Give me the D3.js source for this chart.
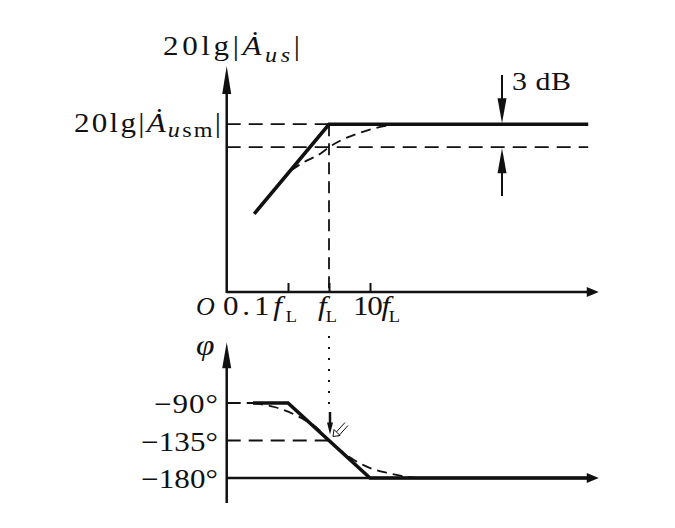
<!DOCTYPE html>
<html><head><meta charset="utf-8">
<script src="https://cdn.jsdelivr.net/npm/d3@7"></script>
<style>
html,body{margin:0;padding:0;background:#fff;}
svg{display:block;}
text{font-family:"Liberation Serif","Times New Roman",serif;fill:#111;}
</style></head>
<body>
<svg id="chart" width="675" height="528"></svg>
<script>
// ---------- data (frequency in units of fL, magnitude in dB relative to midband, phase in degrees) ----------
const xTickValues = [0.1, 1, 10];
const xTickPrefix = ["0.1", "", "10"];
const xAxisRange = [0.0032, 3.8e6];

const magAsymFreq = [0.015, 1, 2.1e6];
const magAsymDb   = [-11.7, 0, 0];
const magCurveFreq = [0.118, 0.246, 0.64, 1, 1.96, 5.1, 22, 57, 120];
const magCurveDb   = [-6.0, -4.95, -3.78, -3, -2.1, -1.2, -0.26, 0, 0];
const magRefLevels = [0, -3];
const magAxisRange = [-21.9, 7.6];
const threeDbMarkFreq = 16600;

const phaseAsymFreq = [0.014, 0.1, 10, 2.1e6];
const phaseAsymDeg  = [-90, -90, -180, -180];
const phaseCurveFreq = [0.014, 0.046, 0.21, 0.54, 1, 3.44, 8.9, 27, 118, 200];
const phaseCurveDeg  = [-90, -94.8, -108, -121, -135, -156, -167, -174, -179.5, -180];
const phaseTicks = [-90, -135, -180];
const phaseTickLabels = ["\u221290\u00b0", "\u2212135\u00b0", "\u2212180\u00b0"];
const phaseAxisRange = [-210, -17];

// ---------- scales ----------
const svg = d3.select("#chart");
const x = d3.scaleLog().domain([0.1, 10]).range([288, 370]);
const yMag = d3.scaleLinear().domain(magAxisRange).range([292, 66]);
const yPh = d3.scaleLinear().domain([-180, -90]).range([478, 403]);

const ink = "#111";
const x0 = x(xAxisRange[0]), x1 = x(xAxisRange[1]);
const SX = 1.15; // horizontal stretch of the lettering

function arrowHead(tx, ty, dir, len, w) {
  let p;
  if (dir === "up") p = [[tx, ty], [tx - w / 2, ty + len], [tx + w / 2, ty + len]];
  else if (dir === "down") p = [[tx, ty], [tx - w / 2, ty - len], [tx + w / 2, ty - len]];
  else p = [[tx, ty], [tx - len, ty - w / 2], [tx - len, ty + w / 2]];
  svg.append("path").attr("d", "M" + p.map(d => d.join(",")).join("L") + "Z").attr("fill", ink);
}
function label(tx, ty, size, w, anchor, sx) {
  const s = sx || SX;
  const t = svg.append("text")
    .attr("transform", `translate(${tx},${ty}) scale(${s},1)`)
    .attr("font-size", size).attr("text-anchor", anchor || "start");
  if (w) t.attr("textLength", w / s).attr("lengthAdjust", "spacing");
  return t;
}
const dashed = "14,8";

// ================= magnitude plot =================
const gMag = svg.append("g");
gMag.append("line").attr("x1", x0).attr("x2", x(1))
  .attr("y1", yMag(magRefLevels[0])).attr("y2", yMag(magRefLevels[0]))
  .attr("stroke", ink).attr("stroke-width", 1.8).attr("stroke-dasharray", dashed);
gMag.append("line").attr("x1", x0).attr("x2", x(magAsymFreq[2]))
  .attr("y1", yMag(magRefLevels[1])).attr("y2", yMag(magRefLevels[1]))
  .attr("stroke", ink).attr("stroke-width", 1.8).attr("stroke-dasharray", dashed);
gMag.append("line").attr("x1", x(1)).attr("x2", x(1))
  .attr("y1", yMag(0)).attr("y2", yMag(magAxisRange[0]))
  .attr("stroke", ink).attr("stroke-width", 1.8).attr("stroke-dasharray", "12,7");

const axMag = d3.axisBottom(x).tickValues(xTickValues).tickSizeInner(-9).tickSizeOuter(0).tickFormat("");
const gAx = gMag.append("g").attr("transform", `translate(0,${yMag(magAxisRange[0])})`).call(axMag);
gAx.select(".domain").remove();
gAx.selectAll(".tick line").attr("stroke", ink).attr("stroke-width", 2);

gMag.append("line").attr("x1", x0).attr("x2", x1 - 8).attr("y1", yMag(magAxisRange[0])).attr("y2", yMag(magAxisRange[0]))
  .attr("stroke", ink).attr("stroke-width", 2.5);
arrowHead(x1, yMag(magAxisRange[0]), "right", 12, 10);
gMag.append("line").attr("x1", x0).attr("x2", x0).attr("y1", yMag(magAxisRange[0]) + 1).attr("y2", yMag(magAxisRange[1]) + 12)
  .attr("stroke", ink).attr("stroke-width", 2.5);
arrowHead(x0, yMag(magAxisRange[1]), "up", 28, 9);

const magLine = d3.line().x(d => x(d[0])).y(d => yMag(d[1]));
gMag.append("path").datum(magAsymFreq.map((f, i) => [f, magAsymDb[i]]))
  .attr("d", magLine).attr("fill", "none").attr("stroke", ink).attr("stroke-width", 3.6).attr("stroke-linejoin", "miter");
gMag.append("path").datum(magCurveFreq.map((f, i) => [f, magCurveDb[i]]))
  .attr("d", magLine.curve(d3.curveMonotoneX)).attr("fill", "none").attr("stroke", ink).attr("stroke-width", 1.8)
  .attr("stroke-dasharray", "10,6");

// 3 dB markers
const xm = x(threeDbMarkFreq);
gMag.append("line").attr("x1", xm).attr("x2", xm).attr("y1", 75).attr("y2", yMag(0) - 10).attr("stroke", ink).attr("stroke-width", 2);
arrowHead(xm, yMag(0) - 1, "down", 25, 9);
gMag.append("line").attr("x1", xm).attr("x2", xm).attr("y1", 196).attr("y2", yMag(-3) + 10).attr("stroke", ink).attr("stroke-width", 2);
arrowHead(xm, yMag(-3) + 1, "up", 25, 9);
label(xm + 10, 90, 26, 59).text("3 dB");

// amplitude labels
function ampLabel(tx, ty, anchor, sub, w, dy) {
  const t = label(tx, ty, 27, w, anchor);
  t.append("tspan").text("20lg|");
  t.append("tspan").attr("font-style", "italic").text("\u0226");
  t.append("tspan").attr("font-size", 21).attr("dy", dy).attr("font-style", "italic").text("u");
  t.append("tspan").attr("font-size", 21).attr("font-style", sub === "s" ? "italic" : "normal").text(sub);
  t.append("tspan").attr("dy", -dy).text("|");
}
ampLabel(163, 55, "start", "s", 137, 7);
ampLabel(221, 132, "end", "sm", 147, 5);

// tick labels on frequency axis
label(196, 315, 26, null, "start", 1).attr("font-style", "italic").text("O");
const tickLabelWidths = [74, 19, 47];
const tickLabelLeft = [223, 318, 353];
xTickValues.forEach((v, i) => {
  const t = label(tickLabelLeft[i], 315, 27, tickLabelWidths[i]);
  t.append("tspan").text(xTickPrefix[i]);
  t.append("tspan").attr("font-style", "italic").text("f");
  t.append("tspan").attr("font-size", 16).attr("dy", 7).text("L");
});

// ================= phase plot =================
const gPh = svg.append("g");
gPh.append("line").attr("x1", x0).attr("x2", x(phaseAsymFreq[0])).attr("y1", yPh(-90)).attr("y2", yPh(-90))
  .attr("stroke", ink).attr("stroke-width", 1.8).attr("stroke-dasharray", "14,6");
gPh.append("line").attr("x1", x0).attr("x2", x(1)).attr("y1", yPh(-135)).attr("y2", yPh(-135))
  .attr("stroke", ink).attr("stroke-width", 1.8).attr("stroke-dasharray", dashed);

gPh.append("line").attr("x1", x0).attr("x2", x1 - 8).attr("y1", yPh(-180)).attr("y2", yPh(-180))
  .attr("stroke", ink).attr("stroke-width", 2.5);
arrowHead(x1, yPh(-180), "right", 12, 10);
gPh.append("line").attr("x1", x0).attr("x2", x0).attr("y1", yPh(phaseAxisRange[0])).attr("y2", yPh(phaseAxisRange[1]) + 12)
  .attr("stroke", ink).attr("stroke-width", 2.5);
arrowHead(x0, yPh(phaseAxisRange[1]), "up", 26, 9);

const phLine = d3.line().x(d => x(d[0])).y(d => yPh(d[1]));
gPh.append("path").datum(phaseAsymFreq.map((f, i) => [f, phaseAsymDeg[i]]))
  .attr("d", phLine).attr("fill", "none").attr("stroke", ink).attr("stroke-width", 3.6);
gPh.append("path").datum(phaseCurveFreq.map((f, i) => [f, phaseCurveDeg[i]]))
  .attr("d", phLine.curve(d3.curveMonotoneX)).attr("fill", "none").attr("stroke", ink).attr("stroke-width", 1.8)
  .attr("stroke-dasharray", "10,6");

const phaseLabelWidths = [64, 77, 77];
phaseTicks.forEach((v, i) => {
  label(218, yPh(v) + 10, 27, phaseLabelWidths[i], "end").text(phaseTickLabels[i]);
});
label(196, 355, 29).attr("font-style", "italic").text("\u03c6");

// dotted connector from fL down to the phase point
const xf = x(1);
svg.append("line").attr("x1", xf).attr("x2", xf).attr("y1", 336).attr("y2", 412)
  .attr("stroke", ink).attr("stroke-width", 2).attr("stroke-dasharray", "2,9");
svg.append("line").attr("x1", xf + 1).attr("x2", xf + 1).attr("y1", 412).attr("y2", 424)
  .attr("stroke", ink).attr("stroke-width", 2.5);
arrowHead(xf + 1, yPh(-135) - 6, "down", 12, 6);
const hx = xf + 4, hy = yPh(-135) - 4;
svg.append("path").attr("d", `M${hx + 12},${hy - 14}L${hx + 2},${hy - 3}M${hx + 15},${hy - 11}L${hx + 5},${hy}`)
  .attr("stroke", ink).attr("stroke-width", 1).attr("fill", "none");
svg.append("path").attr("d", `M${hx},${hy}L${hx + 1},${hy - 7}L${hx + 7},${hy - 1}Z`)
  .attr("stroke", ink).attr("stroke-width", 1).attr("fill", "#fff");
</script>
</body></html>
